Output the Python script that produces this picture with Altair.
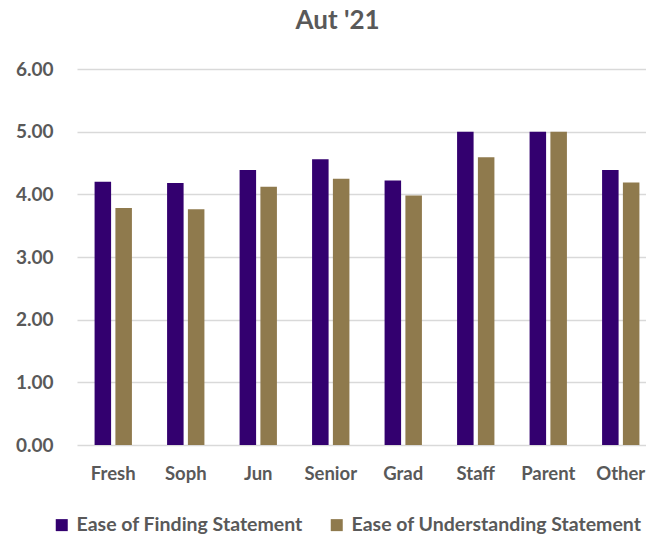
import altair as alt
import pandas as pd

categories = ["Fresh", "Soph", "Jun", "Senior", "Grad", "Staff", "Parent", "Other"]
series_names = ["Ease of Finding Statement", "Ease of Understanding Statement"]
finding = [4.20, 4.18, 4.39, 4.56, 4.22, 5.00, 5.00, 4.39]
understanding = [3.78, 3.76, 4.12, 4.25, 3.98, 4.59, 5.00, 4.19]
y_ticks = [0, 1, 2, 3, 4, 5, 6]
colors = ["#33006F", "#8F7A4D"]

rows = []
for c, f, u in zip(categories, finding, understanding):
    rows.append({"cat": c, "series": series_names[0], "value": f})
    rows.append({"cat": c, "series": series_names[1], "value": u})
df = pd.DataFrame(rows)

FONT = "Lato"
TXT = "#595959"

chart = alt.Chart(df).mark_bar().encode(
    x=alt.X("cat:N", sort=categories, title=None,
            scale=alt.Scale(range=[0, 580], paddingInner=0.485, paddingOuter=0.2425),
            axis=alt.Axis(labelAngle=0, domain=False, ticks=False, tickSize=0,
                          labelFont=FONT, labelFontSize=18.5, labelFontWeight="bold",
                          labelColor=TXT, labelPadding=19)),
    xOffset=alt.XOffset("series:N", sort=series_names,
                        scale=alt.Scale(paddingInner=0.207, paddingOuter=0)),
    y=alt.Y("value:Q", title=None,
            scale=alt.Scale(domain=[0, 6], nice=False),
            axis=alt.Axis(values=y_ticks, format=".2f", domain=False, ticks=False, tickSize=0,
                          labelFont=FONT, labelFontSize=19, labelFontWeight="bold",
                          labelColor=TXT, labelPadding=24,
                          gridColor="#D9D9D9", gridWidth=1.5)),
    color=alt.Color("series:N", sort=series_names,
                    scale=alt.Scale(domain=series_names, range=colors),
                    legend=alt.Legend(title=None, orient="none", direction="horizontal",
                                      legendX=-25, legendY=446,
                                      symbolType="square", symbolSize=144, symbolStrokeWidth=0,
                                      labelFont=FONT, labelFontSize=19.5, labelFontWeight="bold",
                                      labelColor=TXT, labelOffset=5, columnPadding=24,
                                      padding=0, labelLimit=400)),
).properties(
    width=569,
    height=376,
    title=alt.TitleParams("Aut '21", font=FONT, fontSize=26, fontWeight="bold",
                          color=TXT, anchor="middle", dx=-24, offset=26),
    autosize=alt.AutoSizeParams(type="none"),
    padding={"left": 77, "top": 69, "right": 0, "bottom": 89},
).configure_view(stroke=None)

chart.save("out.html", embed_options={"renderer": "svg", "actions": False})
